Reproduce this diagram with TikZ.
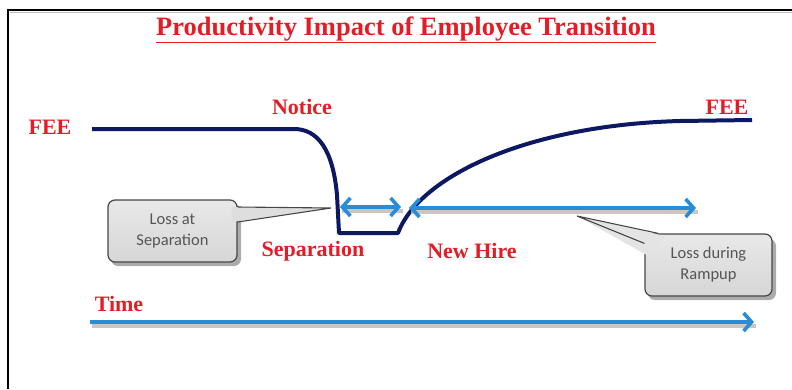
\documentclass[tikz,border=0pt]{standalone}
\usepackage{fontspec}
\setmainfont{Liberation Serif}
\newfontfamily\calloutfont{Carlito}
\usetikzlibrary{arrows.meta}
\definecolor{labelred}{RGB}{228,28,38}
\definecolor{curvenavy}{RGB}{12,24,98}
\definecolor{spanblue}{RGB}{40,140,215}
\definecolor{boxgrey}{RGB}{214,214,214}
\definecolor{boxedge}{RGB}{70,70,70}
\definecolor{notegrey}{RGB}{85,85,85}
\begin{document}
\begin{tikzpicture}[x=1pt,y=-1pt,
  redlabel/.style={text=labelred,font=\fontsize{22}{25}\selectfont\bfseries,inner sep=0pt},
  productivity/.style={draw=curvenavy,line width=4pt,line join=round},
  span/.style={draw=spanblue,line width=3.6pt,
    arrows={Straight Barb[length=8pt,width=18pt]-Straight Barb[length=8pt,width=18pt]}},
  timeline/.style={draw=spanblue,line width=3.6pt,-{Straight Barb[length=8pt,width=18pt]}},
  spanshadow/.style={draw=gray!55,line width=3.6pt,opacity=0.8},
  notebox/.style={draw=boxedge,line width=1.2pt,rounded corners=7pt,top color=boxgrey!55,bottom color=boxgrey,
    minimum width=129pt,minimum height=62pt,align=center,text=notegrey,
    font=\calloutfont\fontsize{16.5}{21}\selectfont,inner sep=0pt},
  boxshadow/.style={fill=black!55,rounded corners=7pt,opacity=0.6}]
\useasboundingbox (0,0) rectangle (792,389);

% frame edges
\draw[line width=2pt,black] (8,389) -- (8,10) -- (792,10);
\draw[line width=1pt,gray!50] (10,12.5) -- (792,12.5);

% title
\node[text=labelred,font=\fontsize{26.5}{30}\selectfont\bfseries,inner sep=0pt] (title) at (406,30)
  {\underline{Productivity Impact of Employee Transition}};

% labels
\node[redlabel] (feeL) at (50,127) {FEE};
\node[redlabel] (notice) at (302,107) {Notice};
\node[redlabel] (feeR) at (727,107) {FEE};
\node[redlabel] (sep) at (313,251) {Separation};
\node[redlabel] (hire) at (472,251) {New Hire};
\node[redlabel] (time) at (119,304) {Time};

% productivity curve
\coordinate (p0) at (92,129);
\coordinate (p1) at (294,129);
\coordinate (p2) at (337,195);
\coordinate (p3) at (339,233);
\coordinate (p4) at (398,233);
\coordinate (p5) at (680,121);
\coordinate (p6) at (752,120);
\draw[productivity] (p0) -- (p1) .. controls (318,129) and (333,150) .. (p2) -- (p3) -- (p4)
  .. controls (420,175) and (530,125) .. (p5) -- (p6);

% span arrows
\coordinate (s1a) at (340,207);
\coordinate (s1b) at (401,207);
\coordinate (s2a) at (409,208);
\coordinate (s2b) at (696,208);
\coordinate (t0) at (90,322);
\coordinate (t1) at (754,322);
\draw[spanshadow] ([shift={(2,4)}]s1a) -- ([shift={(2,4)}]s1b);
\draw[spanshadow] ([shift={(2,4)}]s2a) -- ([shift={(2,4)}]s2b);
\draw[spanshadow] ([shift={(2,4)}]t0) -- ([shift={(2,4)}]t1);
\draw[span] (s1a) -- (s1b);
\draw[span] (s2a) -- (s2b);
\draw[timeline] (t0) -- (t1);

% callout: loss at separation
\fill[boxshadow] (111,204) rectangle (241,266);
\node[notebox] (lossSep) at (172.5,231) {Loss at\\Separation};
\coordinate (tipSep) at (331,208);
\fill[boxgrey!80] ([shift={(-6,-24)}]lossSep.east) -- (tipSep) -- ([shift={(-6,-9)}]lossSep.east) -- cycle;
\draw[boxedge,line width=1.1pt] ([shift={(0,-24)}]lossSep.east) -- (tipSep) -- ([shift={(0,-9)}]lossSep.east);

% callout: loss during rampup
\fill[boxshadow] (648,239) rectangle (776,300);
\node[notebox,minimum width=127pt] (lossRamp) at (708.5,265) {Loss during\\Rampup};
\coordinate (tipRamp) at (577,216);
\fill[boxgrey!65] ([shift={(3,22)}]lossRamp.north west) -- (tipRamp) -- ([shift={(22,3)}]lossRamp.north west) -- cycle;
\draw[boxedge,line width=1.1pt] ([shift={(0,10)}]lossRamp.north west) -- (tipRamp) -- ([shift={(14,0)}]lossRamp.north west);
\end{tikzpicture}
\end{document}
